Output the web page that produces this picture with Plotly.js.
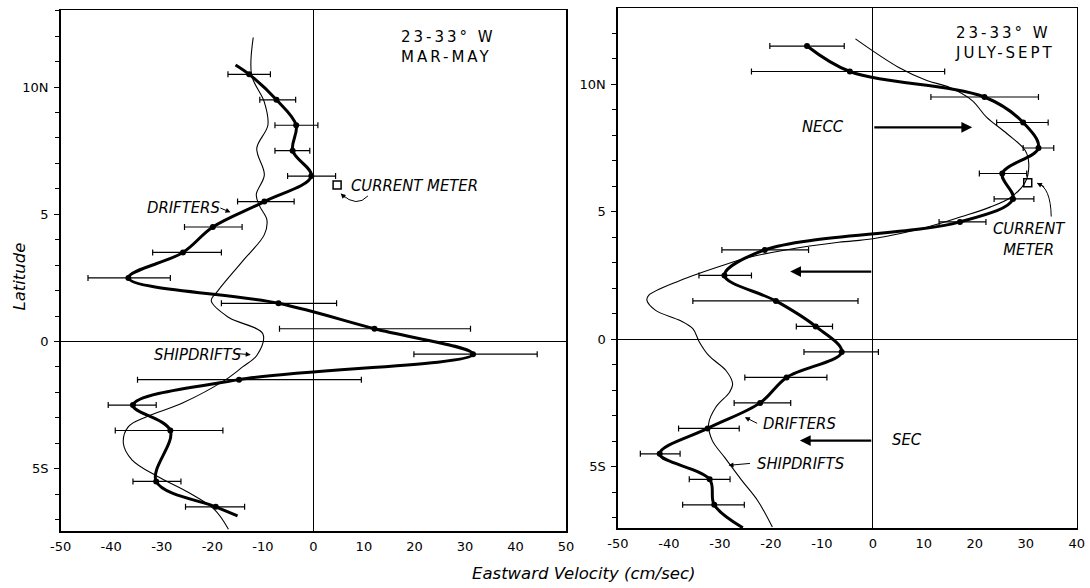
<!DOCTYPE html>
<html>
<head>
<meta charset="utf-8">
<script src="https://cdn.plot.ly/plotly-3.0.1.min.js"></script>
<style>
  html, body { margin: 0; padding: 0; background: #fff; }
  #chart { width: 1090px; height: 588px; }
</style>
</head>
<body>
<div id="chart"></div>
<script>
// ---- 23-33°W, March-May: drifter means (cm/s) with error bars, by latitude ----
const marLat   = [10.5, 9.5, 8.5, 7.5, 6.5, 5.5, 4.5, 3.5, 2.5, 1.5, 0.5, -0.5, -1.5, -2.5, -3.5, -5.5, -6.5];
const marDrift = [-12.7, -7.3, -3.4, -4.1, -0.4, -9.7, -19.9, -25.8, -36.6, -6.9, 12.1, 31.6, -14.7, -35.7, -28.3, -31.1, -19.3];
const marLo    = [-16.9, -10.6, -7.6, -7.6, -5.1, -15.0, -25.5, -31.8, -44.6, -18.2, -6.7, 19.9, -34.8, -40.6, -39.2, -35.7, -25.3];
const marHi    = [-8.5, -3.5, 0.9, -0.7, 4.4, -3.8, -14.1, -18.2, -28.3, 4.6, 31.1, 44.3, 9.5, -31.1, -17.9, -26.2, -13.6];
// ends of the hand-drawn drifter curve beyond the first and last bins
const marCurveTop = { v: -15.4, lat: 10.87 };
const marCurveBot = { v: -15.0, lat: -6.86 };
// ship-drift climatology profile
const marShipLat = [11.95, 10.46, 9.41, 8.5, 7.59, 6.55, 5.77, 5.31, 4.79, 4.2, 3.16, 1.99, 1.6, 0.95, 0.3, -0.55, -1.0, -1.52, -2.43, -2.96, -3.35, -4.0, -4.65, -5.3, -5.95, -6.6, -7.38];
const marShipV   = [-11.9, -12.2, -9.7, -9.0, -11.2, -9.7, -11.3, -10.6, -9.2, -9.7, -14.0, -18.9, -20.2, -16.8, -10.0, -11.2, -14.0, -17.5, -26.0, -33.0, -36.6, -37.6, -35.9, -30.9, -24.6, -19.6, -16.8];
// moored current meter
const marMeter = { v: 4.7, lat: 6.15 };

// ---- 23-33°W, July-September ----
const julLat   = [11.5, 10.5, 9.5, 8.5, 7.5, 6.5, 5.5, 4.6, 3.5, 2.5, 1.5, 0.5, -0.5, -1.5, -2.5, -3.5, -4.5, -5.5, -6.5];
const julDrift = [-12.9, -4.5, 21.9, 29.5, 32.5, 25.4, 27.5, 17.1, -21.2, -29.1, -19.0, -11.2, -6.1, -16.9, -22.1, -32.4, -41.8, -32.0, -31.1];
const julLo    = [-20.2, -23.8, 11.4, 24.3, 29.5, 20.9, 23.8, 13.0, -29.6, -34.1, -35.3, -15.0, -13.5, -25.1, -27.2, -38.1, -45.6, -36.0, -37.3];
const julHi    = [-5.6, 14.1, 32.5, 34.4, 35.5, 30.2, 31.6, 22.2, -12.6, -23.8, -2.9, -7.9, 1.1, -9.0, -16.1, -26.2, -37.8, -28.0, -25.2];
const julCurveBot = { v: -25.5, lat: -7.4 };
const julShipLat = [11.78, 10.67, 10.15, 9.88, 9.36, 8.71, 8.05, 7.4, 6.88, 6.16, 5.57, 5.18, 4.81, 4.39, 3.94, 3.8, 3.5, 3.22, 2.89, 2.3, 1.71, 1.52, 1.13, 0.73, 0.41, -0.12, -0.64, -1.23, -1.75, -2.08, -2.67, -3.32, -3.97, -4.63, -5.54, -6.33, -7.37];
const julShipV   = [-3.4, 5.0, 10.6, 15.0, 19.5, 22.3, 26.4, 29.9, 30.6, 29.9, 27.1, 23.0, 17.5, 10.6, 0.0, -6.7, -17.1, -24.0, -29.5, -37.8, -44.0, -44.3, -42.6, -37.8, -35.3, -34.0, -32.2, -28.8, -27.5, -28.1, -30.8, -32.2, -31.5, -29.1, -25.7, -22.6, -19.7];
const julMeter = { v: 30.4, lat: 6.14 };

// current bands: label, latitude, arrow tip velocity, label position
const julBands = [
  { name: 'NECC', lat: 8.31, tip: 19.5, labelV: -14.3 },
  { name: '',     lat: 2.65, tip: -16.2, labelV: null },
  { name: 'SEC',  lat: -3.98, tip: -14.3, labelV: 3.3 }
];

const latTicks = [10, 5, 0, -5];
const latText  = ['10N', '5', '0', '5S'];
const velTicksL = [-50, -40, -30, -20, -10, 0, 10, 20, 30, 40, 50];
const velTicksR = [-50, -40, -30, -20, -10, 0, 10, 20, 30, 40];

// ---- styling ----
const INK = '#000';
const tickFont = { family: 'DejaVu Sans, sans-serif', size: 13, color: INK };
const handFont = { family: 'Liberation Sans Narrow, DejaVu Sans Condensed, Arial Narrow, sans-serif', size: 16.5, color: INK };
const labelFont = { family: 'DejaVu Sans, sans-serif', size: 16.5, color: INK };
const headFont = { family: 'DejaVu Sans, sans-serif', size: 15, color: INK };

const minus = (a, b) => a.map((v, i) => v - b[i]);

function driftTraces(lat, v, lo, hi, curveLat, curveV, xa, ya) {
  return [
    { type: 'scatter', mode: 'lines', x: curveV, y: curveLat, xaxis: xa, yaxis: ya,
      line: { color: INK, width: 3, shape: 'spline', smoothing: 1 }, hoverinfo: 'skip' },
    { type: 'scatter', mode: 'markers', x: v, y: lat, xaxis: xa, yaxis: ya,
      marker: { color: INK, size: 6 },
      error_x: { type: 'data', symmetric: false, array: minus(hi, v), arrayminus: minus(v, lo),
                 color: INK, thickness: 1.2, width: 3 } }
  ];
}

const traces = [
  { type: 'scatter', mode: 'lines', x: marShipV, y: marShipLat, xaxis: 'x', yaxis: 'y',
    line: { color: INK, width: 1.1, shape: 'spline', smoothing: 1 } },
  ...driftTraces(marLat, marDrift, marLo, marHi,
    [marCurveTop.lat, ...marLat, marCurveBot.lat],
    [marCurveTop.v, ...marDrift, marCurveBot.v], 'x', 'y'),
  { type: 'scatter', mode: 'markers', x: [marMeter.v], y: [marMeter.lat], xaxis: 'x', yaxis: 'y',
    marker: { symbol: 'square-open', size: 8, color: INK, line: { width: 1.5, color: INK } } },

  { type: 'scatter', mode: 'lines', x: julShipV, y: julShipLat, xaxis: 'x2', yaxis: 'y2',
    line: { color: INK, width: 1.1, shape: 'spline', smoothing: 1 } },
  ...driftTraces(julLat, julDrift, julLo, julHi,
    [...julLat, julCurveBot.lat], [...julDrift, julCurveBot.v], 'x2', 'y2'),
  { type: 'scatter', mode: 'markers', x: [julMeter.v], y: [julMeter.lat], xaxis: 'x2', yaxis: 'y2',
    marker: { symbol: 'square-open', size: 8, color: INK, line: { width: 1.5, color: INK } } }
];

function xAxis(domain, range, ticks, anchor) {
  return {
    domain, range, anchor, tickvals: ticks, ticktext: ticks.map(String),
    showline: true, mirror: true, linecolor: INK, linewidth: 1.5,
    zeroline: true, zerolinecolor: INK, zerolinewidth: 1,
    showgrid: false, ticks: '', tickfont: tickFont, ticklabelstandoff: 3, fixedrange: true
  };
}
function yAxis(domain, range, anchor) {
  return {
    domain, range, anchor, tickvals: latTicks, ticktext: latText,
    showline: true, mirror: true, linecolor: INK, linewidth: 1.5,
    zeroline: true, zerolinecolor: INK, zerolinewidth: 1,
    showgrid: false, ticks: 'outside', ticklen: 5, tickwidth: 1, tickcolor: INK,
    minor: { dtick: 1, ticks: 'outside', ticklen: 4, tickwidth: 1, tickcolor: INK, showgrid: false },
    tickfont: tickFont, ticklabelstandoff: 3, fixedrange: true
  };
}

// two-line panel heading in wide lettering
const spaced = (s) => '<span style="letter-spacing:3px">' + s + '</span>';
const heading = (xa, ya, x, y, l1, l2) => ({ xref: xa, yref: ya, x, y, xanchor: 'left', yanchor: 'middle',
  align: 'left', text: spaced(l1) + '<br>' + spaced(l2), showarrow: false, font: headFont });

const annotations = [
  heading('x', 'y', 17.0, 11.58, '23-33° W', 'MAR-MAY'),
  heading('x2', 'y2', 15.7, 11.6, '23-33° W', 'JULY-SEPT'),

  // labels, March-May
  { xref: 'x', yref: 'y', x: 7.0, y: 6.15, xanchor: 'left', yanchor: 'middle',
    text: '<i>CURRENT METER</i>', showarrow: false, font: handFont },
  { xref: 'x', yref: 'y', x: -33.3, y: 5.27, xanchor: 'left', yanchor: 'middle',
    text: '<i>DRIFTERS</i>', showarrow: false, font: handFont },
  { xref: 'x', yref: 'y', x: -16.4, y: 5.08, axref: 'x', ayref: 'y', ax: -18.7, ay: 5.27,
    text: '', showarrow: true, arrowhead: 2, arrowsize: 1, arrowwidth: 1, arrowcolor: INK },
  { xref: 'x', yref: 'y', x: -31.9, y: -0.53, xanchor: 'left', yanchor: 'middle',
    text: '<i>SHIPDRIFTS</i>', showarrow: false, font: handFont },
  { xref: 'x', yref: 'y', x: -12.4, y: -0.52, axref: 'x', ayref: 'y', ax: -15.6, ay: -0.47,
    text: '', showarrow: true, arrowhead: 2, arrowsize: 1, arrowwidth: 1, arrowcolor: INK },
  { xref: 'x', yref: 'y', x: 5.4, y: 5.82, axref: 'x', ayref: 'y', ax: 6.6, ay: 5.6,
    text: '', showarrow: true, arrowhead: 2, arrowsize: 1, arrowwidth: 1, arrowcolor: INK },

  // labels, July-September
  { xref: 'x2', yref: 'y2', x: 30.7, y: 3.92, xanchor: 'center', yanchor: 'middle', align: 'center',
    text: '<i>CURRENT<br>METER</i>', showarrow: false, font: handFont },
  { xref: 'x2', yref: 'y2', x: 32.2, y: 6.13, axref: 'x2', ayref: 'y2', ax: 33.9, ay: 5.95,
    text: '', showarrow: true, arrowhead: 2, arrowsize: 1, arrowwidth: 1, arrowcolor: INK },
  { xref: 'x2', yref: 'y2', x: -22.0, y: -3.3, xanchor: 'left', yanchor: 'middle',
    text: '<i>DRIFTERS</i>', showarrow: false, font: handFont },
  { xref: 'x2', yref: 'y2', x: -25.1, y: -3.06, axref: 'x2', ayref: 'y2', ax: -22.4, ay: -3.33,
    text: '', showarrow: true, arrowhead: 2, arrowsize: 1, arrowwidth: 1, arrowcolor: INK },
  { xref: 'x2', yref: 'y2', x: -23.2, y: -4.87, xanchor: 'left', yanchor: 'middle',
    text: '<i>SHIPDRIFTS</i>', showarrow: false, font: handFont },
  { xref: 'x2', yref: 'y2', x: -28.3, y: -4.95, axref: 'x2', ayref: 'y2', ax: -23.8, ay: -4.87,
    text: '', showarrow: true, arrowhead: 2, arrowsize: 1, arrowwidth: 1, arrowcolor: INK },

  // axis titles
  { xref: 'paper', yref: 'paper', x: 0.535, y: 1 - 573 / 588, xanchor: 'center', yanchor: 'middle',
    text: '<i>Eastward Velocity (cm/sec)</i>', showarrow: false, font: labelFont },
  { xref: 'paper', yref: 'paper', x: 19 / 1090, y: 1 - 276.5 / 588, xanchor: 'center', yanchor: 'middle',
    text: '<i>Latitude</i>', textangle: -90, showarrow: false, font: labelFont }
];

// current-band arrows from the zero line, with their names
julBands.forEach(b => {
  annotations.push({ xref: 'x2', yref: 'y2', x: b.tip, y: b.lat, axref: 'x2', ayref: 'y2', ax: 0, ay: b.lat,
    text: '', showarrow: true, arrowhead: 2, arrowsize: 0.9, arrowwidth: 2.4, arrowcolor: INK });
  if (b.name) {
    annotations.push({ xref: 'x2', yref: 'y2', x: b.labelV, y: b.lat + 0.05, xanchor: 'left', yanchor: 'middle',
      text: '<i>' + b.name + '</i>', showarrow: false, font: handFont });
  }
});

// curved leader lines from the current-meter labels to the squares
const shapes = [
  { type: 'path', xref: 'x', yref: 'y', path: 'M10.8,5.72 Q8.6,5.25 5.6,5.78',
    line: { color: INK, width: 1 } },
  { type: 'path', xref: 'x2', yref: 'y2', path: 'M35.0,4.81 Q34.9,5.95 32.3,6.12',
    line: { color: INK, width: 1 } }
];

const layout = {
  width: 1090, height: 588,
  margin: { l: 0, r: 0, t: 0, b: 0 },
  paper_bgcolor: '#fff', plot_bgcolor: '#fff',
  showlegend: false,
  xaxis:  xAxis([60.7 / 1090, 566 / 1090], [-50, 50], velTicksL, 'y'),
  yaxis:  yAxis([1 - 531 / 588, 1 - 10 / 588], [-7.45, 13.03], 'x'),
  xaxis2: xAxis([617.9 / 1090, 1076.7 / 1090], [-50, 40], velTicksR, 'y2'),
  yaxis2: yAxis([1 - 528.3 / 588, 1 - 8.3 / 588], [-7.42, 12.98], 'x2'),
  annotations, shapes
};

Plotly.newPlot('chart', traces, layout, { staticPlot: true, displayModeBar: false });
</script>
</body>
</html>
